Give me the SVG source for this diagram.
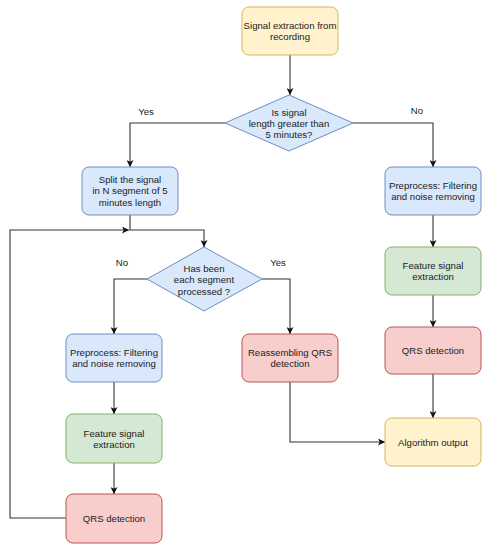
<svg xmlns="http://www.w3.org/2000/svg" width="490" height="550" viewBox="0 0 490 550">
<defs>
<style>
.t{font-family:"Liberation Sans",Arial,Helvetica,sans-serif;font-size:9.6px;fill:#222;text-anchor:middle}
.yel{fill:#fff2cc;stroke:#d6b656;stroke-width:1}
.blu{fill:#dae8fc;stroke:#6c8ebf;stroke-width:1}
.grn{fill:#d5e8d4;stroke:#82b366;stroke-width:1}
.red{fill:#f8cecc;stroke:#b85450;stroke-width:1}
.c{fill:none;stroke:#333;stroke-width:1.1}
</style>
<marker id="a" viewBox="0 0 10 10" refX="10" refY="5" markerWidth="7" markerHeight="7" markerUnits="userSpaceOnUse" orient="auto">
<path d="M0,0 L10,5 L0,10 L2.5,5 Z" fill="#111"/>
</marker>
</defs>
<rect width="490" height="550" fill="#fff"/>
<g id="connectors">
<path class="c" d="M290,55 V95" marker-end="url(#a)"/>
<path class="c" d="M225,123 H130 V167" marker-end="url(#a)"/>
<path class="c" d="M353,123 H433 V167" marker-end="url(#a)"/>
<path class="c" d="M130,215 V230 H204 V247" marker-end="url(#a)"/>
<path class="c" d="M147,279 H114 V334" marker-end="url(#a)"/>
<path class="c" d="M262,279 H290 V334" marker-end="url(#a)"/>
<path class="c" d="M114,382 V414" marker-end="url(#a)"/>
<path class="c" d="M114,463 V494" marker-end="url(#a)"/>
<path class="c" d="M66,518 H10 V230 H129" marker-end="url(#a)"/>
<path class="c" d="M290,382 V442 H385" marker-end="url(#a)"/>
<path class="c" d="M433,215 V247" marker-end="url(#a)"/>
<path class="c" d="M433,295 V327" marker-end="url(#a)"/>
<path class="c" d="M433,374 V418" marker-end="url(#a)"/>
<text class="t" x="146" y="115">Yes</text>
<text class="t" x="417" y="114">No</text>
<text class="t" x="122" y="266">No</text>
<text class="t" x="278" y="266">Yes</text>
</g>
<g id="start">
<rect class="yel" x="242" y="7" width="96" height="48" rx="7"/>
<text class="t" x="290" y="28.5">Signal extraction from</text>
<text class="t" x="290" y="39.5">recording</text>
</g>
<g id="decision1">
<polygon class="blu" points="289,95 353,123 289,151 225,123"/>
<text class="t" x="289" y="115.5">Is signal</text>
<text class="t" x="289" y="126.5">length greater than</text>
<text class="t" x="289" y="137.5">5 minutes?</text>
</g>
<g id="split">
<rect class="blu" x="82" y="167" width="96" height="48" rx="7"/>
<text class="t" x="130" y="182.5">Split the signal</text>
<text class="t" x="130" y="194">in N segment of 5</text>
<text class="t" x="130" y="205.5">minutes length</text>
</g>
<g id="preprocessRight">
<rect class="blu" x="385" y="167" width="96" height="48" rx="7"/>
<text class="t" x="433" y="189">Preprocess: Filtering</text>
<text class="t" x="433" y="200">and noise removing</text>
</g>
<g id="decision2">
<polygon class="blu" points="204,247 262,279 204,311 147,279"/>
<text class="t" x="204" y="271.5">Has been</text>
<text class="t" x="204" y="283">each segment</text>
<text class="t" x="204" y="294.5">processed ?</text>
</g>
<g id="featureRight">
<rect class="grn" x="385" y="247" width="96" height="48" rx="7"/>
<text class="t" x="433" y="269">Feature signal</text>
<text class="t" x="433" y="280">extraction</text>
</g>
<g id="qrsRight">
<rect class="red" x="385" y="327" width="96" height="47" rx="7"/>
<text class="t" x="433" y="354">QRS detection</text>
</g>
<g id="preprocessLeft">
<rect class="blu" x="66" y="334" width="96" height="48" rx="7"/>
<text class="t" x="114" y="356">Preprocess: Filtering</text>
<text class="t" x="114" y="367">and noise removing</text>
</g>
<g id="reassembling">
<rect class="red" x="242" y="334" width="96" height="48" rx="7"/>
<text class="t" x="290" y="356">Reassembling QRS</text>
<text class="t" x="290" y="367">detection</text>
</g>
<g id="featureLeft">
<rect class="grn" x="66" y="414" width="96" height="49" rx="7"/>
<text class="t" x="114" y="436.5">Feature signal</text>
<text class="t" x="114" y="447.5">extraction</text>
</g>
<g id="output">
<rect class="yel" x="385" y="418" width="96" height="48" rx="7"/>
<text class="t" x="433" y="445.5">Algorithm output</text>
</g>
<g id="qrsLeft">
<rect class="red" x="66" y="494" width="96" height="49" rx="7"/>
<text class="t" x="114" y="521.5">QRS detection</text>
</g>
</svg>
